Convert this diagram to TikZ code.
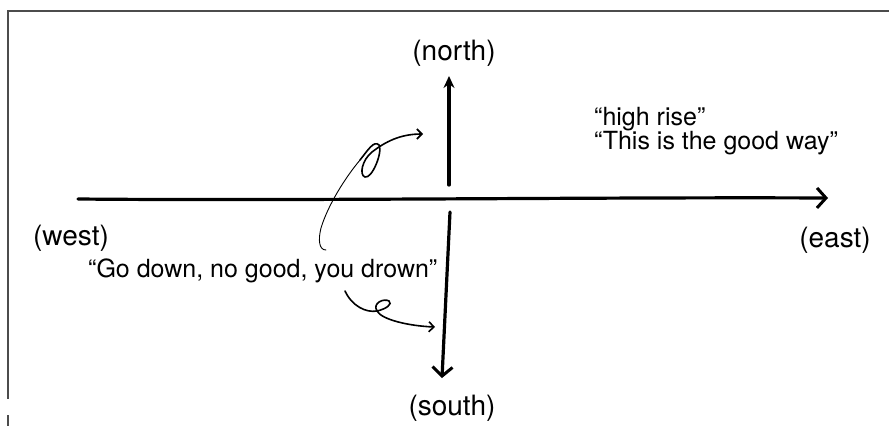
\documentclass[tikz,border=0pt]{standalone}
\usepackage{fontspec}
\setmainfont{TeX Gyre Heros}
\usetikzlibrary{arrows.meta}
\tikzset{
  lbl/.style={inner sep=0pt, font=\fontsize{28}{32}\selectfont},
  quote/.style={inner sep=0pt, font=\fontsize{25}{29}\selectfont},
  axis/.style={line width=3.2pt, line cap=round},
  chev/.style={-{Straight Barb[length=9pt,width=20pt,line width=3pt]}},
  thinchev/.style={-{Straight Barb[length=5pt,width=10pt,line width=1.6pt]}},
  hand/.style={line width=1.6pt, line cap=round},
  framel/.style={line width=1.2pt, draw=black!70}
}
\begin{document}
\begin{tikzpicture}[x=1pt,y=-1pt]
\useasboundingbox (0,0) rectangle (889,426);
% frame
\coordinate (ftr) at (889,11);
\coordinate (ftl) at (8,11);
\coordinate (fbl) at (8,399);
\coordinate (fbl2) at (8,415);
\coordinate (fbl3) at (8,426);
\draw[framel] (ftr) -- (ftl) -- (fbl);
\draw[framel] (fbl2) -- (fbl3);
% labels
\node[lbl] (north) at (454,53) {(north)};
\node[lbl] (south) at (452,408) {(south)};
\node[lbl] (west) at (71,238) {(west)};
\node[lbl] (east) at (835,240) {(east)};
\node[quote, anchor=west] (east1) at (594,119) {“high rise”};
\node[quote, anchor=west] (east2) at (594,143) {“This is the good way”};
\node[quote, anchor=west] (godown) at (88,271) {“Go down, no good, you drown”};
% axes
\coordinate (wstart) at (78,199);
\coordinate (etip) at (828,198);
\coordinate (nstart) at (449,185);
\coordinate (ntip) at (449,76);
\coordinate (sstart) at (450,212);
\coordinate (stip) at (442,378);
\draw[axis, chev] (wstart) .. controls (300,201) and (600,197) .. (etip);
\draw[axis, -{Stealth[length=12pt,width=11pt]}] (nstart) -- (ntip);
\draw[axis, chev] (sstart) -- (stip);
% upper curly arrow
\coordinate (ua) at (326,250);
\coordinate (ub) at (423,134);
\draw[line width=0.9pt, line cap=round] (ua) .. controls (319,250) and (318,240) .. (321,228)
  .. controls (328,205) and (345,178) .. (360,160);
\draw[hand, thinchev] (360,160) .. controls (368,150) and (374,140) .. (379,145)
  .. controls (383,152) and (372,179) .. (365,177)
  .. controls (359,175) and (362,160) .. (372,152)
  .. controls (385,142) and (400,134) .. (ub);
% lower curly arrow
\coordinate (la) at (345,291);
\coordinate (lb) at (435,327);
\draw[hand, thinchev] (la) .. controls (352,306) and (366,313) .. (377,311)
  .. controls (386,309) and (393,304) .. (389,301)
  .. controls (384,298) and (372,303) .. (377,311)
  .. controls (382,320) and (410,326) .. (lb);
\end{tikzpicture}
\end{document}
